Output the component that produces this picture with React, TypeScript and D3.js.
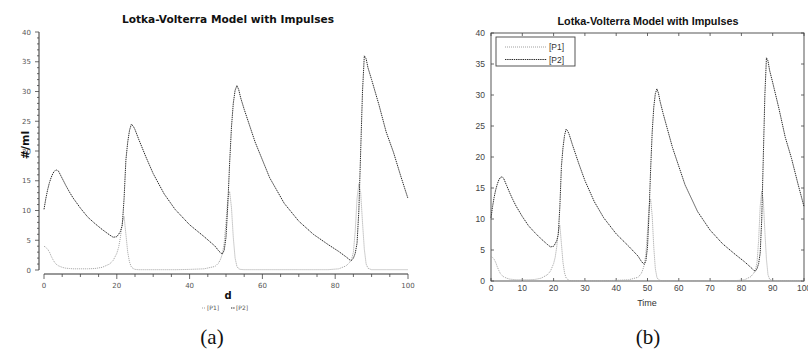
import React from 'react';
import * as d3 from 'd3';

const chartTitle = 'Lotka-Volterra Model with Impulses';
const seriesNames = ['[P1]', '[P2]'];

const time = [
  0, 0.5, 1, 1.5, 2, 2.5, 3, 3.5, 4, 5, 6, 7, 8, 10, 12, 14, 16, 18, 19, 20,
  20.5, 21, 21.5, 22, 22.5, 23, 23.5, 24, 24.5, 25, 26, 28, 30, 33, 36, 40, 44, 47,
  48, 48.5, 49, 49.5, 50, 50.5, 51, 51.5, 52, 52.5, 53, 53.5, 54, 55, 58, 62, 66,
  70, 74, 78, 81, 83, 84, 84.5, 85, 85.5, 86, 86.5, 87, 87.5, 88, 88.5, 89, 90,
  92, 94, 96, 98, 100,
];

const p1 = [
  4.0, 3.8, 3.5, 3.0, 2.3, 1.7, 1.2, 0.9, 0.7, 0.45, 0.3, 0.25, 0.2, 0.2, 0.2, 0.25, 0.45, 1.0, 1.6, 2.8,
  3.8, 5.5, 8.0, 9.0, 6.0, 3.0, 1.3, 0.5, 0.25, 0.1, 0.05, 0.05, 0.05, 0.05, 0.05, 0.1, 0.2, 0.6,
  1.2, 1.8, 2.7, 4.5, 8.0, 12.0, 13.2, 10.5, 5.5, 2.0, 0.6, 0.2, 0.1, 0.05, 0.05, 0.05, 0.05,
  0.05, 0.05, 0.05, 0.2, 0.7, 1.3, 1.8, 3.0, 6.5, 12.0, 14.5, 13.0, 8.0, 3.5, 1.0, 0.3, 0.05,
  0.05, 0.05, 0.05, 0.05, 0.05,
];

const p2 = [
  10.2, 12.0, 13.5, 14.7, 15.6, 16.3, 16.7, 16.8, 16.6, 15.4, 14.2, 13.1, 12.1, 10.4, 8.9, 7.8, 6.8, 5.9, 5.5, 5.6,
  6.0, 6.5, 7.5, 12.0, 18.5, 21.5, 23.5, 24.5, 24.2, 23.6, 22.0, 19.0, 16.2, 12.8, 10.2, 7.6, 5.6, 4.0,
  3.2, 2.9, 2.7, 3.3, 5.5, 11.0, 18.0, 24.0, 28.0, 30.2, 31.0, 30.3, 29.0, 27.0, 21.5, 15.5, 11.2,
  8.2, 6.0, 4.3, 3.1, 2.2, 1.7, 1.6, 2.0, 2.8, 4.5, 10.0, 20.0, 30.0, 36.0, 35.5, 34.0, 32.0,
  27.8, 23.2, 19.8, 15.8, 12.0,
];

const yTicks = [0, 5, 10, 15, 20, 25, 30, 35, 40];
const xTicksA = [0, 20, 40, 60, 80, 100];
const xTicksB = [0, 10, 20, 30, 40, 50, 60, 70, 80, 90, 100];

const series = [p1, p2];
const seriesStroke = ['#a0a0a0', '#2a2a2a'];
const seriesDash = ['1 1', '1.4 0.8'];

function PanelA() {
  const x = d3.scaleLinear().domain([0, 100]).range([44, 408]);
  const y = d3.scaleLinear().domain([0, 40]).range([270, 32]);
  const line = d3.line<number>().x((_, i) => x(time[i])).y(d => y(d));
  const axisX = 39;
  const axisY = 274;
  return (
    <g>
      <text x={228} y={23} textAnchor="middle" fontFamily="DejaVu Sans" fontWeight="bold" fontSize={10.6} fill="#111">
        {chartTitle}
      </text>
      {/* y axis */}
      <line x1={axisX} x2={axisX} y1={y(40)} y2={y(0)} stroke="#333" strokeWidth={1} />
      {d3.range(0, 41, 1).map(v => (
        <line key={'ym' + v} x1={axisX - (v % 5 === 0 ? 4 : 2)} x2={axisX} y1={y(v)} y2={y(v)} stroke="#444" strokeWidth={0.8} />
      ))}
      {yTicks.map(v => (
        <text key={'yl' + v} x={31} y={y(v) + 2.5} textAnchor="end" fontFamily="DejaVu Sans" fontSize={7} fill="#555">
          {v}
        </text>
      ))}
      {/* x axis */}
      <line x1={x(0)} x2={x(100)} y1={axisY} y2={axisY} stroke="#333" strokeWidth={1} />
      {d3.range(0, 101, 5).map(v => (
        <line key={'xm' + v} x1={x(v)} x2={x(v)} y1={axisY} y2={axisY + (v % 20 === 0 ? 5 : 3)} stroke="#444" strokeWidth={0.8} />
      ))}
      {xTicksA.map(v => (
        <text key={'xl' + v} x={x(v)} y={288} textAnchor="middle" fontFamily="DejaVu Sans" fontSize={7} fill="#555">
          {v}
        </text>
      ))}
      <text x={228} y={299} textAnchor="middle" fontFamily="DejaVu Sans" fontWeight="bold" fontSize={10} fill="#111">d</text>
      <text transform="translate(29,145) rotate(-90)" textAnchor="middle" fontFamily="DejaVu Sans" fontWeight="bold" fontSize={11} fill="#111">
        #/ml
      </text>
      {/* legend */}
      {seriesNames.map((n, i) => (
        <g key={n} transform={`translate(${202 + i * 29},310)`}>
          <line x1={0} x2={4} y1={-2} y2={-2} stroke={seriesStroke[i]} strokeDasharray={seriesDash[i]} />
          <text x={5} y={0} fontFamily="DejaVu Sans" fontSize={6} fill="#555">{n}</text>
        </g>
      ))}
      {series.map((s, i) => (
        <path key={i} d={line(s) ?? ''} fill="none" stroke={seriesStroke[i]} strokeWidth={1} strokeDasharray={seriesDash[i]} />
      ))}
      <text x={212} y={344} textAnchor="middle" fontFamily="Liberation Serif" fontSize={21} fill="#111">(a)</text>
    </g>
  );
}

function PanelB() {
  const x = d3.scaleLinear().domain([0, 100]).range([491, 804]);
  const y = d3.scaleLinear().domain([0, 40]).range([281, 33]);
  const line = d3.line<number>().x((_, i) => x(time[i])).y(d => y(d));
  return (
    <g>
      <text x={648} y={25} textAnchor="middle" fontFamily="Liberation Sans" fontWeight="bold" fontSize={10.8} fill="#111">
        {chartTitle}
      </text>
      <rect x={x(0)} y={y(40)} width={x(100) - x(0)} height={y(0) - y(40)} fill="none" stroke="#444" strokeWidth={0.9} />
      {yTicks.map(v => (
        <g key={'yb' + v}>
          <line x1={x(0)} x2={x(0) + 3} y1={y(v)} y2={y(v)} stroke="#444" strokeWidth={0.8} />
          <line x1={x(100) - 3} x2={x(100)} y1={y(v)} y2={y(v)} stroke="#444" strokeWidth={0.8} />
          <text x={485} y={y(v) + 3} textAnchor="end" fontFamily="Liberation Sans" fontSize={8.5} fill="#444">{v}</text>
        </g>
      ))}
      {xTicksB.map(v => (
        <g key={'xb' + v}>
          <line x1={x(v)} x2={x(v)} y1={y(0)} y2={y(0) - 3} stroke="#444" strokeWidth={0.8} />
          <line x1={x(v)} x2={x(v)} y1={y(40)} y2={y(40) + 3} stroke="#444" strokeWidth={0.8} />
          <text x={x(v)} y={291} textAnchor="middle" fontFamily="Liberation Sans" fontSize={8.5} fill="#444">{v}</text>
        </g>
      ))}
      <text x={647} y={306} textAnchor="middle" fontFamily="Liberation Sans" fontSize={9} fill="#333">Time</text>
      {series.map((s, i) => (
        <path key={i} d={line(s) ?? ''} fill="none" stroke={seriesStroke[i]} strokeWidth={1} strokeDasharray={seriesDash[i]} />
      ))}
      <rect x={496} y={37} width={79} height={29} fill="#fff" stroke="#444" strokeWidth={0.9} />
      {seriesNames.map((n, i) => (
        <g key={n}>
          <line x1={505} x2={547} y1={47 + i * 12.5} y2={47 + i * 12.5} stroke={seriesStroke[i]} strokeDasharray={seriesDash[i]} />
          <text x={549} y={50 + i * 12.5} fontFamily="Liberation Sans" fontSize={8.5} fill="#333">{n}</text>
        </g>
      ))}
      <text x={648} y={344} textAnchor="middle" fontFamily="Liberation Serif" fontSize={21} fill="#111">(b)</text>
    </g>
  );
}

export default function App() {
  return (
    <svg width={808} height={350} style={{ position: 'absolute', left: 0, top: 0, background: '#fff' }}>
      <rect width={808} height={350} fill="#fff" />
      <PanelA />
      <PanelB />
    </svg>
  );
}
